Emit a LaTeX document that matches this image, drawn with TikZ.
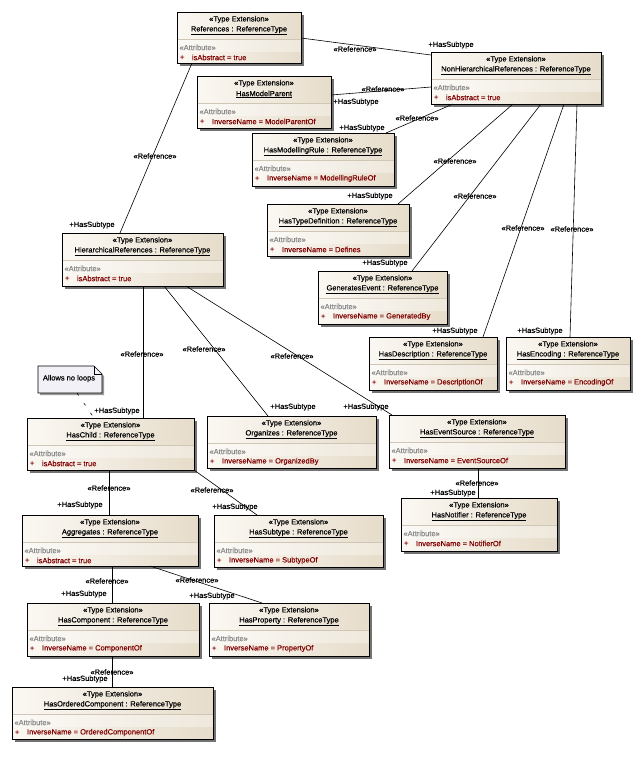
\documentclass[tikz,border=0pt]{standalone}
\usepackage{fontspec}
\setmainfont{Liberation Sans}[FakeBold=0.3]
\usetikzlibrary{shadows}
\definecolor{boxL}{HTML}{FBF8F3}
\definecolor{boxR}{HTML}{E6DCCA}
\definecolor{attrred}{HTML}{800000}
\definecolor{attrgrey}{HTML}{8A8A8A}
\definecolor{sepgrey}{HTML}{CFC6B6}
\definecolor{notefill}{HTML}{F3F1F8}
\tikzset{
  clsbox/.style={draw=black, line width=0.8pt, left color=boxL, right color=boxR,
    inner sep=0pt, outer sep=0pt,
    drop shadow={shadow xshift=2.5pt, shadow yshift=-2.5pt, fill=black!55, opacity=1}},
  txt/.style={inner sep=0pt, outer sep=0pt, font=\fontsize{7.5}{9}\selectfont},
  lbl/.style={txt},
  conn/.style={draw=black, line width=0.6pt},
  sepline/.style={draw=sepgrey, line width=0.6pt},
  notelink/.style={draw=black, line width=0.6pt, dash pattern=on 3pt off 9pt},
}
% #1 name, #2 x1, #3 y1, #4 x2, #5 y2, #6 title, #7 attribute
\newcommand\umlcls[7]{%
  \pgfmathsetmacro\clsw{#4-#2}%
  \pgfmathsetmacro\clsh{#5-#3}%
  \node[clsbox, minimum width=\clsw pt, minimum height=\clsh pt, anchor=north west] (#1) at (#2,#3) {};
  \fill[white, opacity=.35] ([xshift=.5pt,yshift=-27pt]#1.north west) rectangle ([xshift=-.5pt,yshift=-40pt]#1.north east);
  \draw[sepline] ([xshift=.5pt,yshift=-27pt]#1.north west) -- ([xshift=-.5pt,yshift=-27pt]#1.north east);
  \node[txt] (#1-st) at ([yshift=-7.5pt]#1.north) {«Type Extension»};
  \node[txt] (#1-nm) at ([yshift=-18.5pt]#1.north) {\underline{#6}};
  \node[txt, text=attrgrey, anchor=west] (#1-ah) at ([xshift=2.5pt,yshift=-35.5pt]#1.north west) {«Attribute»};
  \node[txt, text=attrred, anchor=west] (#1-pl) at ([xshift=3pt,yshift=-45.5pt]#1.north west) {+};
  \node[txt, text=attrred, anchor=west] (#1-av) at ([xshift=15pt,yshift=-45.5pt]#1.north west) {#7};
}
\begin{document}
\begin{tikzpicture}[x=1pt,y=-1pt]
\useasboundingbox[fill=white] (0,0) rectangle (643,761);

% classes
\umlcls{ref}{177}{12}{301}{63}{References : ReferenceType}{isAbstract = true}
\umlcls{nonh}{431}{52}{601}{104}{NonHierarchicalReferences : ReferenceType}{isAbstract = true}
\umlcls{hmp}{197}{76}{331}{128}{HasModelParent}{InverseName = ModelParentOf}
\umlcls{hmr}{252}{133}{394}{186}{HasModellingRule : ReferenceType}{InverseName = ModellingRuleOf}
\umlcls{htd}{267}{204}{409}{256}{HasTypeDefinition : ReferenceType}{InverseName = Defines}
\umlcls{gev}{318}{271}{447}{324}{GeneratesEvent : ReferenceType}{InverseName = GeneratedBy}
\umlcls{hde}{369}{337}{497}{390}{HasDescription : ReferenceType}{InverseName = DescriptionOf}
\umlcls{hen}{506}{337}{630}{390}{HasEncoding : ReferenceType}{InverseName = EncodingOf}
\umlcls{hier}{62}{233}{223}{286}{HierarchicalReferences : ReferenceType}{isAbstract = true}
\umlcls{hch}{27}{418}{194}{470}{HasChild : ReferenceType}{isAbstract = true}
\umlcls{org}{207}{416}{376}{468}{Organizes : ReferenceType}{InverseName = OrganizedBy}
\umlcls{hes}{389}{415}{565}{468}{HasEventSource : ReferenceType}{InverseName = EventSourceOf}
\umlcls{hno}{401}{498}{557}{551}{HasNotifier : ReferenceType}{InverseName = NotifierOf}
\umlcls{agg}{22}{515}{198}{566}{Aggregates : ReferenceType}{isAbstract = true}
\umlcls{hst}{214}{515}{383}{567}{HasSubtype : ReferenceType}{InverseName = SubtypeOf}
\umlcls{hco}{27}{603}{199}{656}{HasComponent : ReferenceType}{InverseName = ComponentOf}
\umlcls{hpr}{209}{603}{369}{656}{HasProperty : ReferenceType}{InverseName = PropertyOf}
\umlcls{hoc}{12}{687}{213}{739}{HasOrderedComponent : ReferenceType}{InverseName = OrderedComponentOf}

% note
\node[inner sep=0pt, outer sep=0pt, minimum width=64pt, minimum height=27pt, anchor=north west] (note) at (38,366) {};
\fill[black!40] ([xshift=2pt,yshift=-2pt]note.north west) -- ([xshift=-6pt,yshift=-2pt]note.north east) -- ([xshift=2pt,yshift=-10pt]note.north east) -- ([xshift=2pt,yshift=-2pt]note.south east) -- ([xshift=2pt,yshift=-2pt]note.south west) -- cycle;
\filldraw[fill=notefill, draw=black, line width=0.6pt] (note.north west) -- ([xshift=-8pt]note.north east) -- ([yshift=-8pt]note.north east) -- (note.south east) -- (note.south west) -- cycle;
\draw[line width=0.6pt] ([xshift=-8pt]note.north east) -- ([xshift=-8pt,yshift=-8pt]note.north east) -- ([yshift=-8pt]note.north east);
\node[txt] (note-t) at ([xshift=-1pt,yshift=1pt]note.center) {Allows no loops};
\draw[notelink] ([xshift=39pt]note.south west) -- ([xshift=67pt]hch.north west);

% connectors
\draw[conn] ([yshift=-26pt]ref.north east) -- ([yshift=-3pt]nonh.north west);
\draw[conn] ([yshift=-35pt]nonh.north west) -- ([yshift=-19pt]hmp.north east);
\draw[conn] ([xshift=22pt]nonh.south west) -- ([xshift=-8pt]hmr.north east);
\draw[conn] ([xshift=82pt]nonh.south west) -- ([xshift=-11pt]htd.north east);
\draw[conn] ([xshift=110pt]nonh.south west) -- ([xshift=-35pt]gev.north east);
\draw[conn] ([xshift=133pt]nonh.south west) -- ([xshift=-14pt]hde.north east);
\draw[conn] ([xshift=146pt]nonh.south west) -- ([xshift=64pt]hen.north west);
\draw[conn] ([xshift=15pt]ref.south west) -- ([xshift=58pt]hier.north west);
\draw[conn] ([xshift=81pt]hier.south west) -- ([xshift=116pt]hch.north west);
\draw[conn] ([xshift=102pt]hier.south west) -- ([xshift=61pt]org.north west);
\draw[conn] ([xshift=124pt]hier.south west) -- ([xshift=3pt]hes.north west);
\draw[conn] ([xshift=89pt]hes.south west) -- ([xshift=77pt]hno.north west);
\draw[conn] ([xshift=82pt]hch.south west) -- ([xshift=87pt]agg.north west);
\draw[conn] (hch.south east) -- ([xshift=43pt]hst.north west);
\draw[conn] ([xshift=90pt]agg.south west) -- ([xshift=85pt]hco.north west);
\draw[conn] ([xshift=128pt]agg.south west) -- ([xshift=53pt]hpr.north west);
\draw[conn] ([xshift=85pt]hco.south west) -- ([xshift=100pt]hoc.north west);

% «Reference» labels
\node[lbl] (r1) at (355,49) {«Reference»};
\node[lbl] (r2) at (383,89) {«Reference»};
\node[lbl] (r3) at (417,118) {«Reference»};
\node[lbl] (r4) at (455,161) {«Reference»};
\node[lbl] (r5) at (475,196) {«Reference»};
\node[lbl] (r6) at (523,228) {«Reference»};
\node[lbl] (r7) at (572,229) {«Reference»};
\node[lbl] (r8) at (155,156) {«Reference»};
\node[lbl] (r9) at (142,354) {«Reference»};
\node[lbl] (r10) at (204,349) {«Reference»};
\node[lbl] (r11) at (292,356) {«Reference»};
\node[lbl] (r12) at (477,483) {«Reference»};
\node[lbl] (r13) at (109,488) {«Reference»};
\node[lbl] (r14) at (212,490) {«Reference»};
\node[lbl] (r15) at (107,581) {«Reference»};
\node[lbl] (r16) at (197,580) {«Reference»};
\node[lbl] (r17) at (112,672) {«Reference»};

% +HasSubtype labels
\node[lbl] (s1) at (451,45) {+HasSubtype};
\node[lbl] (s2) at (356,102) {+HasSubtype};
\node[lbl] (s3) at (362,128) {+HasSubtype};
\node[lbl] (s4) at (370,196) {+HasSubtype};
\node[lbl] (s5) at (385,263) {+HasSubtype};
\node[lbl] (s6) at (455,331) {+HasSubtype};
\node[lbl] (s7) at (540,331) {+HasSubtype};
\node[lbl] (s8) at (92,225) {+HasSubtype};
\node[lbl] (s9) at (117,411) {+HasSubtype};
\node[lbl] (s10) at (293,407) {+HasSubtype};
\node[lbl] (s11) at (366,407) {+HasSubtype};
\node[lbl] (s12) at (453,493) {+HasSubtype};
\node[lbl] (s13) at (80,505) {+HasSubtype};
\node[lbl] (s14) at (235,507) {+HasSubtype};
\node[lbl] (s15) at (84,594) {+HasSubtype};
\node[lbl] (s16) at (212,596) {+HasSubtype};
\node[lbl] (s17) at (85,679) {+HasSubtype};
\end{tikzpicture}
\end{document}
